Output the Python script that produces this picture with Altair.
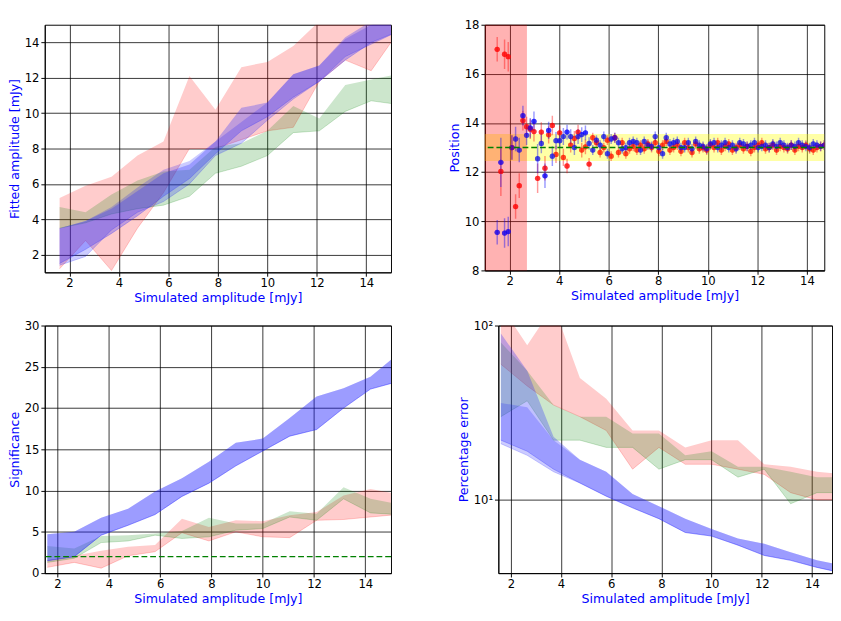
import numpy as np
import pandas as pd
import altair as alt

## band data (x = simulated amplitude bins)
amp = [1.6, 2.65, 3.7, 4.75, 5.8, 6.85, 7.9, 8.95, 10.0, 11.05, 12.1, 13.15, 14.2, 15.25]

# fitted amplitude
fit_red_lo = [1.2, 2.8, 1.1, 3.5, 5.5, 8.0, 8.0, 8.5, 9.0, 9.2, 11.8, 13.0, 12.4, 14.5]
fit_red_hi = [5.2, 5.9, 6.4, 7.6, 8.4, 12.1, 10.2, 12.6, 12.9, 13.8, 15.2, 15.5, 15.5, 15.5]
fit_grn_lo = [3.5, 3.8, 4.3, 4.6, 4.8, 5.3, 6.6, 7.0, 7.6, 8.9, 9.0, 10.1, 10.7, 10.5]
fit_grn_hi = [4.7, 4.4, 5.4, 6.2, 6.7, 6.8, 8.1, 8.3, 9.0, 10.4, 9.7, 11.6, 11.9, 12.2]
fit_blu_lo = [1.4, 1.9, 3.4, 4.4, 5.0, 6.0, 7.6, 8.3, 9.6, 10.8, 11.8, 13.2, 13.9, 14.6]
fit_blu_hi = [3.5, 3.9, 4.7, 5.8, 6.8, 7.3, 8.4, 9.5, 10.6, 12.2, 12.7, 14.2, 15.0, 15.5]
fit_pur_lo = [1.5, 2.3, 3.2, 4.2, 5.3, 6.3, 7.7, 9.0, 9.8, 10.9, 11.8, 13.0, 14.0, 14.6]
fit_pur_hi = [3.5, 3.9, 4.6, 5.6, 6.6, 7.1, 8.4, 10.3, 10.6, 12.2, 12.7, 14.3, 15.2, 15.5]

# significance
sig_red_lo = [0.7, 1.3, 0.6, 2.1, 2.6, 4.9, 3.9, 5.0, 4.4, 4.3, 6.4, 6.5, 6.8, 7.1]
sig_red_hi = [1.6, 2.1, 2.7, 3.2, 3.4, 6.6, 5.6, 6.4, 6.3, 7.0, 7.4, 9.4, 10.2, 9.6]
sig_grn_lo = [1.3, 1.8, 3.7, 3.9, 4.6, 4.2, 4.4, 5.2, 5.4, 6.8, 6.4, 9.0, 7.3, 7.1]
sig_grn_hi = [3.3, 3.0, 4.5, 4.6, 4.8, 5.1, 6.7, 6.0, 6.0, 7.5, 7.2, 10.4, 9.0, 8.4]
sig_blu_lo = [1.5, 2.0, 4.6, 5.8, 7.1, 9.3, 10.9, 13.0, 14.8, 16.6, 17.4, 20.0, 22.3, 23.2]
sig_blu_hi = [4.7, 5.0, 6.7, 7.8, 9.9, 11.5, 13.5, 15.8, 16.3, 18.8, 21.4, 22.4, 23.8, 26.5]

# percentage error
err_red_lo = [60, 45, 35, 30, 25, 15, 20, 16, 16, 15, 14, 11, 10, 10]
err_red_hi = [130, 77, 130, 50, 38, 25, 25, 20, 22, 22, 16, 15.5, 14.5, 14]
err_grn_lo = [30, 37, 22, 22, 20, 20, 15, 17, 17, 13.5, 15, 9.5, 11, 11]
err_grn_hi = [80, 55, 35, 30, 30, 24, 24, 18, 19, 15.5, 15.5, 14.5, 13.5, 13.5]
err_blu_lo = [21, 18, 14.5, 12.5, 10.5, 9, 7.8, 6.5, 6.2, 5.5, 4.8, 4.5, 4.1, 3.8]
err_blu_hi = [36, 34, 22, 17, 14.5, 10.8, 9.2, 7.8, 6.8, 6.0, 5.6, 5.0, 4.5, 4.2]
err_pur_lo = [22, 19, 15, 12.5, 10.5, 9, 7.8, 6.5, 6.2, 5.5, 4.8, 4.5, 4.1, 3.8]
err_pur_hi = [90, 55, 23, 17, 14.5, 10.8, 9.2, 7.8, 6.8, 6.0, 5.6, 5.0, 4.5, 4.2]

## position scatter
pos_x = [round(v, 3) for v in np.linspace(1.5, 14.7, 90)]
pos_red = [17.0, 12.03, 16.8, 16.7, 13.0, 10.6, 11.45, 14.1, 13.85, 13.75,
           13.65, 11.75, 13.63, 12.16, 13.52, 13.9, 12.72, 13.6, 12.6, 12.25,
           13.1, 13.37, 13.63, 12.9, 13.03, 12.33, 13.4, 13.2, 12.8, 13.0,
           13.3, 12.65, 13.4, 12.8, 13.2, 12.75, 12.95, 13.05, 12.9, 13.1,
           12.95, 13.15, 13.0, 13.2, 12.85, 13.1, 13.25, 12.9, 13.0, 13.1,
           12.85, 13.2, 13.0, 12.8, 13.15, 12.95, 13.0, 12.9, 13.1, 13.0,
           13.2, 12.9, 13.05, 13.15, 12.9, 13.0, 13.1, 12.95, 13.05, 12.85,
           13.0, 13.1, 13.2, 12.95, 13.0, 13.1, 12.9, 13.05, 13.0, 12.95,
           13.1, 12.9, 13.05, 13.0, 13.1, 12.95, 12.9, 13.0, 13.05, 13.1]
pos_blu = [9.55, 12.4, 9.52, 9.58, 13.0, 13.35, 12.9, 14.3, 13.5, 13.8,
           14.07, 12.55, 13.17, 11.85, 13.7, 12.65, 13.28, 13.28, 13.45, 13.63,
           13.45, 13.0, 13.45, 13.53, 13.6, 13.17, 12.9, 13.3, 13.1, 13.45,
           12.75, 13.35, 13.4, 13.2, 12.95, 13.0, 13.2, 13.25, 13.2, 12.9,
           13.25, 13.1, 13.05, 13.45, 13.0, 12.75, 13.4, 13.15, 13.2, 13.25,
           13.0, 13.0, 13.2, 12.95, 13.25, 13.1, 13.05, 12.95, 13.15, 13.2,
           13.0, 13.1, 13.2, 13.0, 13.1, 12.95, 13.2, 13.15, 13.05, 13.1,
           13.2, 13.0, 13.05, 13.1, 13.0, 13.15, 13.05, 13.2, 13.1, 13.0,
           13.1, 13.05, 13.2, 13.1, 13.05, 13.0, 13.15, 13.1, 13.05, 13.1]
pos_err = [0.5, 1.0, 0.6, 0.6, 0.5, 0.5, 0.5, 0.4, 0.4, 0.4,
           0.4, 0.6, 0.4, 0.5, 0.35, 0.4, 0.35, 0.3, 0.35, 0.3,
           0.3, 0.3, 0.3, 0.3, 0.3, 0.25] + [0.2] * 64

blue_txt = "#0000ff"
axis_x = alt.Axis(title="Simulated amplitude [mJy]", titleColor=blue_txt, values=[2, 4, 6, 8, 10, 12, 14],
                  gridColor="black", gridOpacity=0.8, titleFontWeight="normal")


def band_df(bands):
    rows = []
    for name, lo, hi in bands:
        for x, a, b in zip(amp, lo, hi):
            rows.append({"amp": x, "lo": a, "hi": b, "band": name})
    return pd.DataFrame(rows)


band_colors = {"red": ("#ff0000", 0.2), "green": ("#008000", 0.2), "blue": ("#0000ff", 0.2), "purple": ("#3030ff", 0.3)}


def band_panel(bands, ydomain, ytitle, yscale="linear", yvalues=None, ylabels=None, xdomain=(1.0, 15.0), width=358):
    df = band_df(bands)
    layers = []
    if yvalues is not None:
        yaxis = alt.Axis(title=ytitle, titleColor=blue_txt, gridColor="black", gridOpacity=0.8,
                         titleFontWeight="normal", values=yvalues, labelExpr=ylabels)
    else:
        yaxis = alt.Axis(title=ytitle, titleColor=blue_txt, gridColor="black", gridOpacity=0.8,
                         titleFontWeight="normal")
    for name in [b[0] for b in bands]:
        col, op = band_colors[name]
        layers.append(alt.Chart(df).transform_filter(alt.datum.band == name).mark_area(
            color=col, opacity=op, clip=True, line={"color": col, "opacity": op, "strokeWidth": 1}).encode(
            x=alt.X("amp:Q", scale=alt.Scale(domain=list(xdomain), nice=False), axis=axis_x),
            y=alt.Y("lo:Q", scale=alt.Scale(domain=ydomain, type=yscale, nice=False), axis=yaxis),
            y2="hi:Q"))
    return alt.layer(*layers).properties(width=width, height=256)


p1 = band_panel([("red", fit_red_lo, fit_red_hi), ("green", fit_grn_lo, fit_grn_hi),
                 ("blue", fit_blu_lo, fit_blu_hi), ("purple", fit_pur_lo, fit_pur_hi)],
                [1, 15], "Fitted amplitude [mJy]", xdomain=(1.0, 15.0))

p3 = band_panel([("red", sig_red_lo, sig_red_hi), ("green", sig_grn_lo, sig_grn_hi),
                 ("blue", sig_blu_lo, sig_blu_hi), ("purple", sig_blu_lo, sig_blu_hi)],
                [0, 30], "Significance", xdomain=(1.5, 15.0))
thresh = alt.Chart(pd.DataFrame({"y": [2]})).mark_rule(color="green", strokeDash=[6, 3], strokeWidth=1.5).encode(y="y:Q")
p3 = alt.layer(p3, thresh)

p4 = band_panel([("red", err_red_lo, err_red_hi), ("green", err_grn_lo, err_grn_hi),
                 ("blue", err_blu_lo, err_blu_hi), ("purple", err_pur_lo, err_pur_hi)],
                [3.8, 100], "Percentage error", yscale="log", yvalues=[10, 100],
                ylabels="datum.value == 10 ? '10¹' : '10²'", xdomain=(1.5, 14.8), width=345)

## position panel
pos_df = pd.DataFrame({
    "amp": pos_x * 2,
    "pos": pos_red + pos_blu,
    "err": pos_err * 2,
    "col": ["red"] * len(pos_x) + ["blue"] * len(pos_x),
})
pos_df["lo"] = pos_df["pos"] - pos_df["err"]
pos_df["hi"] = pos_df["pos"] + pos_df["err"]

xsc = alt.Scale(domain=[1.0, 14.7], nice=False)
ysc = alt.Scale(domain=[8, 18], nice=False, zero=False)
xs = alt.X("amp:Q", scale=xsc, axis=axis_x)
ys = alt.Y("pos:Q", scale=ysc,
           axis=alt.Axis(title="Position", titleColor=blue_txt, gridColor="black", gridOpacity=0.8,
                         values=[8, 10, 12, 14, 16, 18], titleFontWeight="normal"))
ccol = alt.Color("col:N", scale=alt.Scale(domain=["red", "blue"], range=["#ff0000", "#0000ff"]), legend=None)

yellow = alt.Chart(pd.DataFrame({"a": [1.0], "b": [14.7], "lo": [12.45], "hi": [13.55]})).mark_rect(
    color="yellow", opacity=0.35).encode(x=alt.X("a:Q", scale=xsc), x2="b:Q", y=alt.Y("lo:Q", scale=ysc), y2="hi:Q")
redzone = alt.Chart(pd.DataFrame({"a": [1.0], "b": [2.7], "lo": [8], "hi": [18]})).mark_rect(
    color="red", opacity=0.3).encode(x=alt.X("a:Q", scale=xsc), x2="b:Q", y=alt.Y("lo:Q", scale=ysc), y2="hi:Q")
pos_line = alt.Chart(pd.DataFrame({"y": [13]})).mark_rule(color="green", strokeDash=[6, 3], strokeWidth=1.5).encode(
    y=alt.Y("y:Q", scale=ysc))
bars = alt.Chart(pos_df).mark_rule(opacity=0.4, strokeWidth=1.5, clip=True).encode(
    x=xs, y=alt.Y("lo:Q", scale=ysc), y2="hi:Q", color=ccol)
dots = alt.Chart(pos_df).mark_circle(size=30, opacity=0.55, clip=True).encode(x=xs, y=ys, color=ccol)
p2 = alt.layer(dots, yellow, redzone, bars, dots, pos_line).properties(width=351, height=254)

chart = alt.vconcat(
    alt.hconcat(p1, p2, spacing=58),
    alt.hconcat(p3, p4, spacing=66),
    spacing=14,
).configure(padding={"left": 0, "top": 0, "right": 0, "bottom": 0}, font="DejaVu Sans").configure_view(
    stroke="black", strokeWidth=1
).configure_axis(
    labelFontSize=12, titleFontSize=13, labelColor="black", tickColor="black", domainColor="black",
    labelFont="DejaVu Sans", titleFont="DejaVu Sans", tickSize=4, titlePadding=3
)

chart.save("out.html", embed_options={"renderer": "svg", "actions": False})
